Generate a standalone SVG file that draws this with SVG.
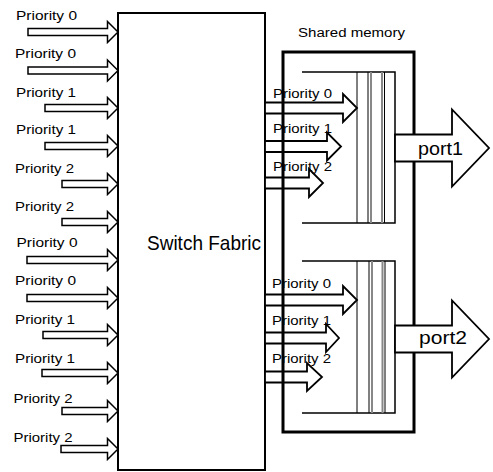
<svg xmlns="http://www.w3.org/2000/svg" width="493" height="472" viewBox="0 0 493 472">
<style>
text{font-family:"Liberation Sans",Arial,sans-serif;fill:#000}
.lbl{font-size:12.5px}
.big{font-size:21px}
.port{font-size:18px}
.arr{fill:#fff;stroke:#000;stroke-width:1.5;stroke-linejoin:miter}
.arr2{fill:#fff;stroke:#000;stroke-width:1.8;stroke-linejoin:miter}
.box{fill:#fff;stroke:#000;stroke-width:2}
.mem{fill:none;stroke:#000;stroke-width:3}
.q{fill:none;stroke:#000;stroke-width:1.5}
.thin{stroke:#000;stroke-width:1}
.gray{stroke:#888;stroke-width:2}
</style>
<rect width="493" height="472" fill="#fff"/>
<g id="switch-fabric">
<rect class="box" x="118" y="13" width="147" height="457"/>
</g>
<g id="connectors">
<polygon class="arr" points="28,28.5 107.5,28.5 107.5,21.5 118,32 107.5,42.5 107.5,35.5 28,35.5"/>
<polygon class="arr" points="28,67 107.5,67 107.5,60 118,70.5 107.5,81 107.5,74 28,74"/>
<polygon class="arr" points="45,104.5 107.5,104.5 107.5,97.5 118,108 107.5,118.5 107.5,111.5 45,111.5"/>
<polygon class="arr" points="45,142.5 107.5,142.5 107.5,135.5 118,146 107.5,156.5 107.5,149.5 45,149.5"/>
<polygon class="arr" points="62,180.5 107.5,180.5 107.5,173.5 118,184 107.5,194.5 107.5,187.5 62,187.5"/>
<polygon class="arr" points="62,218.5 107.5,218.5 107.5,211.5 118,222 107.5,232.5 107.5,225.5 62,225.5"/>
<polygon class="arr" points="27,256.5 107.5,256.5 107.5,249.5 118,260 107.5,270.5 107.5,263.5 27,263.5"/>
<polygon class="arr" points="27,294.5 107.5,294.5 107.5,287.5 118,298 107.5,308.5 107.5,301.5 27,301.5"/>
<polygon class="arr" points="43,331.5 107.5,331.5 107.5,324.5 118,335 107.5,345.5 107.5,338.5 43,338.5"/>
<polygon class="arr" points="42,369.5 107.5,369.5 107.5,362.5 118,373 107.5,383.5 107.5,376.5 42,376.5"/>
<polygon class="arr" points="62,407.5 107.5,407.5 107.5,400.5 118,411 107.5,421.5 107.5,414.5 62,414.5"/>
<polygon class="arr" points="61,445.5 107.5,445.5 107.5,438.5 118,449 107.5,459.5 107.5,452.5 61,452.5"/>
<text class="lbl" x="16" y="20" textLength="61" lengthAdjust="spacingAndGlyphs">Priority 0</text>
<text class="lbl" x="15" y="58" textLength="61" lengthAdjust="spacingAndGlyphs">Priority 0</text>
<text class="lbl" x="16" y="97" textLength="60" lengthAdjust="spacingAndGlyphs">Priority 1</text>
<text class="lbl" x="16" y="134" textLength="60" lengthAdjust="spacingAndGlyphs">Priority 1</text>
<text class="lbl" x="15" y="173" textLength="59" lengthAdjust="spacingAndGlyphs">Priority 2</text>
<text class="lbl" x="15" y="211" textLength="59" lengthAdjust="spacingAndGlyphs">Priority 2</text>
<text class="lbl" x="16.5" y="247" textLength="61" lengthAdjust="spacingAndGlyphs">Priority 0</text>
<text class="lbl" x="15" y="285" textLength="61" lengthAdjust="spacingAndGlyphs">Priority 0</text>
<text class="lbl" x="15" y="324" textLength="60" lengthAdjust="spacingAndGlyphs">Priority 1</text>
<text class="lbl" x="15" y="363" textLength="60" lengthAdjust="spacingAndGlyphs">Priority 1</text>
<text class="lbl" x="13.5" y="403" textLength="59" lengthAdjust="spacingAndGlyphs">Priority 2</text>
<text class="lbl" x="13.5" y="442" textLength="59" lengthAdjust="spacingAndGlyphs">Priority 2</text>
<polygon class="arr2" points="265,102.5 343,102.5 343,94 357,108 343,122 343,113.5 265,113.5"/>
<polygon class="arr2" points="265,141 327,141 327,132.5 341,146.5 327,160.5 327,152 265,152"/>
<polygon class="arr2" points="265,177.5 309,177.5 309,169 323,183 309,197 309,188.5 265,188.5"/>
<polygon class="arr2" points="265,294.5 343,294.5 343,286 357,300 343,314 343,305.5 265,305.5"/>
<polygon class="arr2" points="265,332.5 326,332.5 326,324 339,338 326,352 326,343.5 265,343.5"/>
<polygon class="arr2" points="265,371.5 307,371.5 307,363 322,377 307,391 307,382.5 265,382.5"/>
<text class="lbl" x="273" y="98" textLength="59" lengthAdjust="spacingAndGlyphs">Priority 0</text>
<text class="lbl" x="273" y="133" textLength="59" lengthAdjust="spacingAndGlyphs">Priority 1</text>
<text class="lbl" x="273" y="171" textLength="59" lengthAdjust="spacingAndGlyphs">Priority 2</text>
<text class="lbl" x="272" y="288" textLength="59" lengthAdjust="spacingAndGlyphs">Priority 0</text>
<text class="lbl" x="272" y="325" textLength="59" lengthAdjust="spacingAndGlyphs">Priority 1</text>
<text class="lbl" x="272" y="363" textLength="59" lengthAdjust="spacingAndGlyphs">Priority 2</text>
</g>
<g id="shared-memory">
<rect class="mem" x="283" y="52" width="131" height="380"/>
<text class="lbl" x="298" y="37" textLength="107" lengthAdjust="spacingAndGlyphs">Shared memory</text>
</g>
<g id="queue1">
<path class="q" d="M302,72 H395 V223 H302"/>
<line class="thin" x1="357" y1="72" x2="357" y2="223"/>
<line class="thin" x1="368" y1="72" x2="368" y2="223"/>
<line class="gray" x1="371" y1="72" x2="371" y2="223"/>
<line class="gray" x1="382" y1="72" x2="382" y2="223"/>
<line class="thin" x1="384.5" y1="72" x2="384.5" y2="223"/>
</g>
<g id="queue2">
<path class="q" d="M302,261 H395 V413 H302"/>
<line class="thin" x1="357" y1="261" x2="357" y2="413"/>
<line class="thin" x1="369" y1="261" x2="369" y2="413"/>
<line class="gray" x1="372" y1="261" x2="372" y2="413"/>
<line class="gray" x1="382.5" y1="261" x2="382.5" y2="413"/>
<line class="thin" x1="385" y1="261" x2="385" y2="413"/>
</g>
<g id="port1">
<polygon class="arr2" points="395,134.5 452,134.5 452,109.5 489,148 452,186.5 452,161.5 395,161.5"/>
<text class="port" x="418" y="155" textLength="45" lengthAdjust="spacingAndGlyphs">port1</text>
</g>
<g id="port2">
<polygon class="arr2" points="395,325.5 452,325.5 452,300.5 489,339 452,377.5 452,352.5 395,352.5"/>
<text class="port" x="419" y="344" textLength="48" lengthAdjust="spacingAndGlyphs">port2</text>
</g>
<g id="switch-fabric-label">
<text class="big" x="147" y="250" textLength="114" lengthAdjust="spacingAndGlyphs">Switch Fabric</text>
</g>
</svg>
